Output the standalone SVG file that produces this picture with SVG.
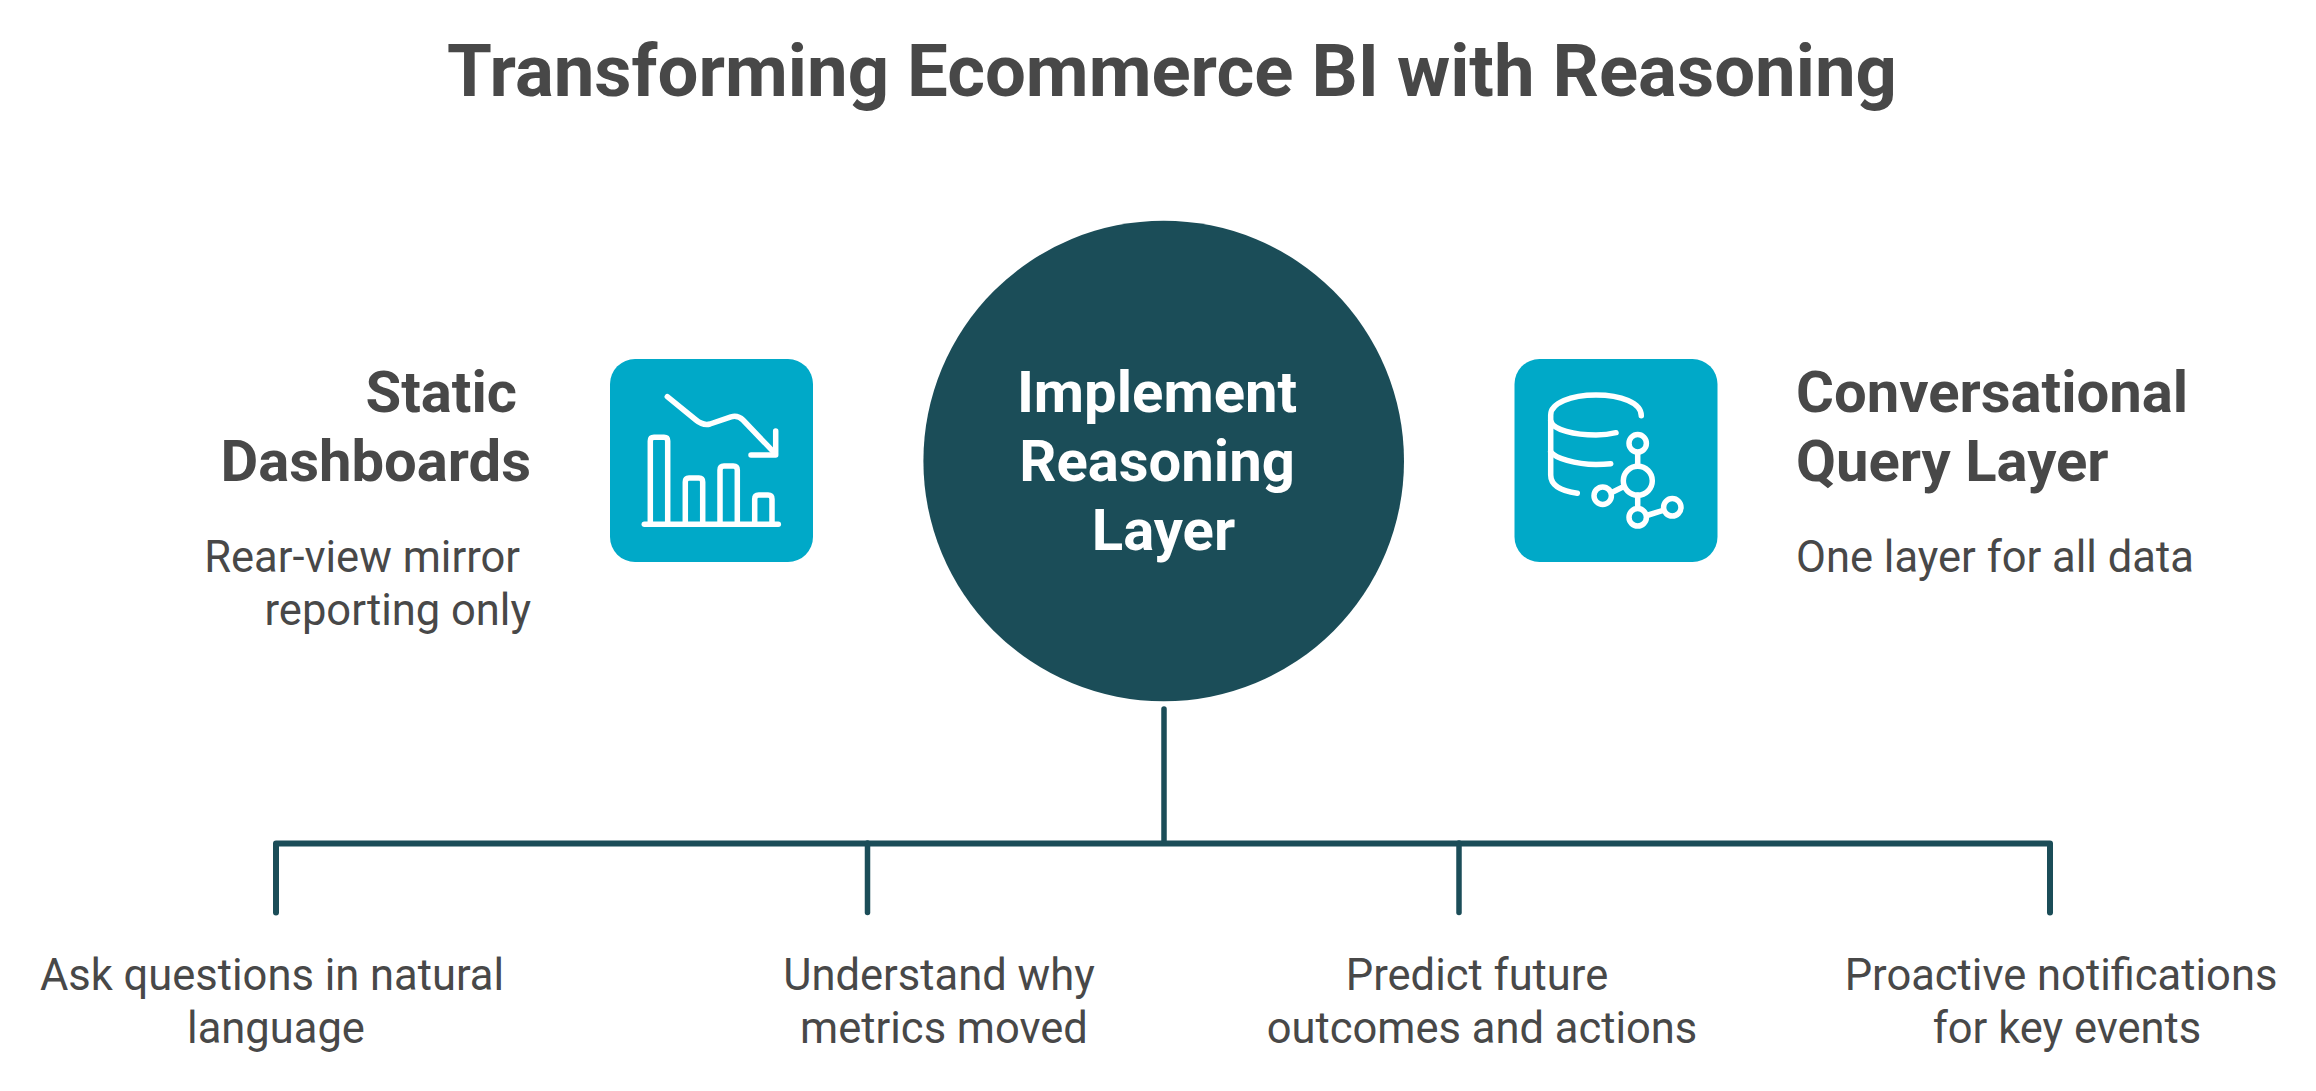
<svg xmlns="http://www.w3.org/2000/svg" width="2316" height="1091" viewBox="0 0 2316 1091">
<style>
text{font-family:"Roboto","Liberation Sans",sans-serif;fill:#484848}
.t{font-size:72.500px;font-weight:700;text-anchor:middle}
.h{font-size:58px;font-weight:700}
.b{font-size:43.500px}
.m{text-anchor:middle}
.e{text-anchor:end}
.c{font-size:58px;font-weight:700;fill:#fff;text-anchor:middle}
.ico{fill:none;stroke:#fff;stroke-width:5.500;stroke-linecap:round;stroke-linejoin:round}
.con{fill:none;stroke:#1b4d58;stroke-width:5.500;stroke-linecap:round;stroke-linejoin:round}
.sq{fill:#00a9c8}
</style>
<rect width="2316" height="1091" fill="#fff"/>
<text id="title" class="t" x="1172" y="96">Transforming Ecommerce BI with Reasoning</text>
<g id="connectors">
<path class="con" d="M1164 709V843"/>
<path class="con" style="stroke-width:6" d="M276 912.500V843.500H2050V912.500"/>
<path class="con" d="M867.500 843V912.500"/>
<path class="con" d="M1459 843V912.500"/>
</g>
<g id="node-center">
<circle cx="1163.700" cy="461" r="240.300" fill="#1b4d58"/>
<text class="c" x="1157" y="412">Implement</text>
<text class="c" x="1157" y="481">Reasoning</text>
<text class="c" x="1163.500" y="550">Layer</text>
</g>
<g id="node-static">
<rect class="sq" x="610" y="359" width="203" height="203" rx="25"/>
<path class="ico" d="M667.300 396.700L696 420Q703 425.800 710 424L731 416.800Q738 415 743 420L773.300 451.700"/>
<path class="ico" d="M751 455H775.700V431"/>
<path class="ico" d="M650.300 524.300V441Q650.300 437.300 654 437.300H664Q667.700 437.300 667.700 441V524.300"/>
<path class="ico" d="M685.300 524.300V482Q685.300 478 689 478H699Q702.700 478 702.700 482V524.300"/>
<path class="ico" d="M720 524.300V470Q720 466 724 466H733.300Q737.300 466 737.300 470V524.300"/>
<path class="ico" d="M754.700 524.300V499Q754.700 495 758.700 495H768Q772 495 772 499V524.300"/>
<path class="ico" d="M644.300 524.300H778.300"/>
<text class="h e" x="517" y="412">Static</text>
<text class="h e" x="531" y="481">Dashboards</text>
<text class="b e" x="520" y="572">Rear-view mirror</text>
<text class="b e" x="531" y="625">reporting only</text>
</g>
<g id="node-query">
<rect class="sq" x="1514.500" y="359" width="203" height="203" rx="25"/>
<path class="ico" d="M1641.300 415.700C1641.300 403 1621 395 1596 395C1571 395 1550.700 403 1550.700 415V475C1550.700 485 1561 491 1577.300 493.300"/>
<path class="ico" d="M1550.700 421C1553 430 1575 435 1596 435Q1607 435 1616 432.700"/>
<path class="ico" d="M1550.700 451.700C1555 458 1575 464.500 1596 464.500Q1604 464.500 1610.700 463.700"/>
<circle class="ico" cx="1637.800" cy="480.700" r="14.500"/>
<circle class="ico" cx="1637.700" cy="443.300" r="8.700"/>
<circle class="ico" cx="1602.700" cy="495.700" r="8.700"/>
<circle class="ico" cx="1637.700" cy="517.300" r="8.700"/>
<circle class="ico" cx="1672.300" cy="507.300" r="8.700"/>
<path class="ico" d="M1637.700 454V466M1637.700 495V506M1613.300 491.700L1623.300 486.700M1648.300 515L1662.300 510.700"/>
<text class="h" x="1796" y="412">Conversational</text>
<text class="h" x="1796" y="481">Query Layer</text>
<text class="b" x="1796" y="572">One layer for all data</text>
</g>
<g id="node-ask">
<text class="b m" x="272" y="990">Ask questions in natural</text>
<text class="b m" x="276" y="1042.500">language</text>
</g>
<g id="node-understand">
<text class="b m" x="939" y="990">Understand why</text>
<text class="b m" x="944" y="1042.500">metrics moved</text>
</g>
<g id="node-predict">
<text class="b m" x="1477" y="990">Predict future</text>
<text class="b m" x="1482" y="1042.500">outcomes and actions</text>
</g>
<g id="node-proactive">
<text class="b m" x="2061" y="990">Proactive notifications</text>
<text class="b m" x="2067" y="1042.500">for key events</text>
</g>
</svg>
